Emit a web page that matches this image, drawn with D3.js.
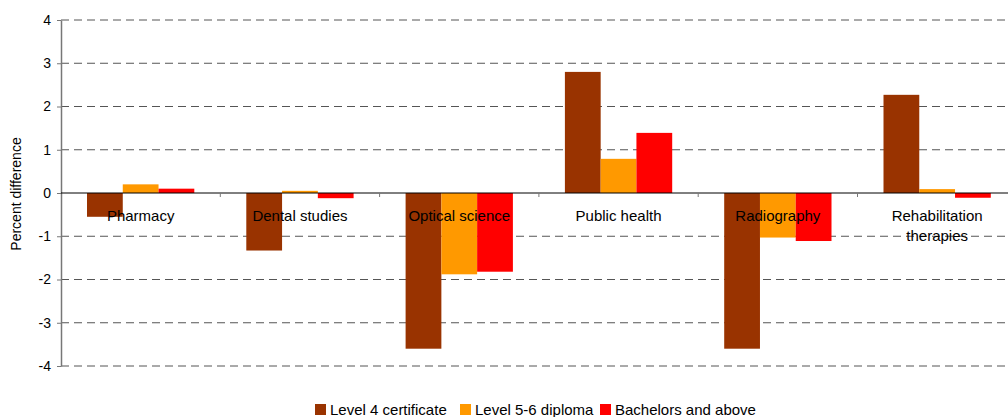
<!DOCTYPE html>
<html>
<head>
<meta charset="utf-8">
<script src="https://cdn.jsdelivr.net/npm/d3@7"></script>
<style>
  body { margin: 0; background: #fff; }
  text { font-family: "Liberation Sans", Arial, sans-serif; fill: #000; }
</style>
</head>
<body>
<div class="chart"></div>
<script>
// Chart data
const categories = ['Pharmacy', 'Dental studies', 'Optical science', 'Public health', 'Radiography', 'Rehabilitation therapies'];
const seriesNames = ['Level 4 certificate', 'Level 5-6 diploma', 'Bachelors and above'];
const level4 = [-0.55, -1.33, -3.6, 2.8, -3.6, 2.27];
const level56 = [0.2, 0.05, -1.88, 0.79, -1.03, 0.09];
const bachelors = [0.1, -0.12, -1.82, 1.39, -1.11, -0.11];
const yTicks = [-4, -3, -2, -1, 0, 1, 2, 3, 4];
const colours = ['#993300', '#FF9900', '#FF0000'];

const series = [level4, level56, bachelors];

const W = 1008, H = 417;
const margin = {top: 20, left: 61, bottom: 51};
const plotW = 159.3 * 6;
const height = H - margin.top - margin.bottom;

const svg = d3.select('.chart')
    .append('svg')
        .attr('width', W)
        .attr('height', H);

const g = svg.append('g')
    .attr('transform', `translate(${margin.left},${margin.top})`);

// Scales
const x = d3.scaleBand()
    .domain(categories)
    .range([0, plotW]);
const x1 = d3.scaleBand()
    .domain(seriesNames)
    .range([26, x.bandwidth() - 26]);
const y = d3.scaleLinear()
    .domain([-4, 4])
    .range([height, 0]);

// Grid lines
g.append('g')
    .selectAll('line')
    .data(yTicks.filter(t => t !== 0))
    .enter()
        .append('line')
        .attr('x1', 0)
        .attr('x2', W)
        .attr('y1', d => y(d))
        .attr('y2', d => y(d))
        .attr('stroke', '#555')
        .attr('stroke-width', 1)
        .attr('stroke-dasharray', '8,5');

// Bars
series.forEach((vals, si) => {
    g.append('g')
        .selectAll('rect')
        .data(vals)
        .enter()
            .append('rect')
            .attr('x', (d, i) => x(categories[i]) + x1(seriesNames[si]))
            .attr('width', x1.bandwidth())
            .attr('y', d => y(Math.max(0, d)))
            .attr('height', d => Math.abs(y(d) - y(0)))
            .attr('fill', colours[si]);
});

// Y axis
const yAxis = g.append('g')
    .call(d3.axisLeft(y).tickValues(yTicks).tickSize(4).tickSizeOuter(0).tickFormat(d => String(d)));
yAxis.select('.domain').attr('stroke', '#777').attr('stroke-width', 1.5);
yAxis.selectAll('.tick line').attr('stroke', '#777');
yAxis.selectAll('text')
    .attr('x', -10)
    .style('font-size', '14px')
    .style('font-family', '"Liberation Sans", Arial, sans-serif');

// Zero line + category ticks
g.append('line')
    .attr('x1', 0).attr('x2', W)
    .attr('y1', y(0)).attr('y2', y(0))
    .attr('stroke', '#000')
    .attr('stroke-width', 1);
g.append('g')
    .selectAll('line')
    .data(categories.slice(1))
    .enter()
        .append('line')
        .attr('x1', d => x(d)).attr('x2', d => x(d))
        .attr('y1', y(0)).attr('y2', y(0) + 4)
        .attr('stroke', '#777');

// Category labels
const labels = g.append('g')
    .selectAll('text')
    .data(categories)
    .enter()
        .append('text')
        .attr('text-anchor', 'middle')
        .attr('transform', d => `translate(${x(d) + x.bandwidth() / 2},${y(0) + 28})`)
        .style('font-size', '15px');
labels.each(function(d) {
    const words = d === 'Rehabilitation therapies' ? ['Rehabilitation', 'therapies'] : [d];
    d3.select(this).selectAll('tspan')
        .data(words)
        .enter()
            .append('tspan')
            .attr('x', 0)
            .attr('dy', (w, i) => i === 0 ? 0 : 20)
            .text(w => w);
});

// Y label
svg.append('text')
    .attr('transform', `translate(21, ${margin.top + y(0) + 1}) rotate(-90)`)
    .attr('text-anchor', 'middle')
    .style('font-size', '14px')
    .text('Percent difference');

// Legend
const legendX = [315, 460, 600];
const legend = svg.append('g')
    .selectAll('g')
    .data(seriesNames)
    .enter()
        .append('g')
        .attr('transform', (d, i) => `translate(${legendX[i]}, 404)`);
legend.append('rect')
    .attr('width', 11)
    .attr('height', 11)
    .attr('fill', (d, i) => colours[i]);
legend.append('text')
    .attr('x', 15)
    .attr('y', 11)
    .style('font-size', '15px')
    .text(d => d);
</script>
</body>
</html>
